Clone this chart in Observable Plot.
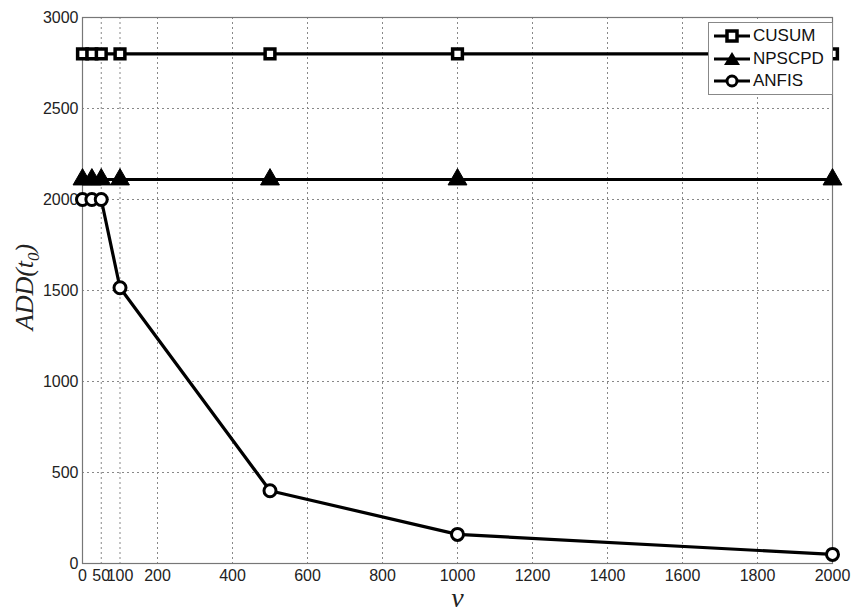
<!DOCTYPE html>
<html>
<head>
<meta charset="utf-8">
<script src="https://cdn.jsdelivr.net/npm/d3@7"></script>
<script src="https://cdn.jsdelivr.net/npm/@observablehq/plot@0.6"></script>
<style>
  html, body { margin: 0; padding: 0; background: #fff; }
  #wrap { position: relative; width: 854px; height: 613px; overflow: hidden; }
  #legend { position: absolute; left: 708px; top: 22px; width: 125px; height: 73px;
    border: 1px solid #888; background: #fff; font-family: "Liberation Sans", Arial, sans-serif;
    font-size: 17px; color: #111; box-sizing: border-box; padding-top: 2px; }
  #legend .row { display: flex; align-items: center; height: 22.5px; }
  #legend svg { margin-left: 3px; margin-right: 1px; }
  #ylab { position: absolute; left: 27px; top: 287px; transform: translate(-50%, -50%) rotate(-90deg);
    font-family: "Liberation Serif", "Times New Roman", serif; font-style: italic; font-size: 26px;
    color: #222; white-space: nowrap; }
  #ylab sub { font-size: 17px; }
</style>
</head>
<body>
<div id="wrap"></div>
<script>
const nu = [0, 25, 50, 100, 500, 1000, 2000];
const cusum = [2800, 2800, 2800, 2800, 2800, 2800, 2800];
const npscpd = [2110, 2110, 2110, 2110, 2110, 2110, 2110];
const anfis = [2000, 2000, 2000, 1515, 400, 160, 50];
const xTicks = [0, 50, 100, 200, 400, 600, 800, 1000, 1200, 1400, 1600, 1800, 2000];
const yTicks = [0, 500, 1000, 1500, 2000, 2500, 3000];
const seriesNames = ["CUSUM", "NPSCPD", "ANFIS"];
const seriesValues = [cusum, npscpd, anfis];
const seriesSymbols = ["square", "triangle", "circle"];
const xLabel = "ν";

const rows = [];
seriesNames.forEach((name, i) => nu.forEach((x, j) => rows.push({series: name, nu: x, v: seriesValues[i][j], sym: seriesSymbols[i]})));

const font = "'Liberation Sans', Arial, sans-serif";
const serif = "'Liberation Serif', 'Times New Roman', serif";
const fmt = d => String(d);

const chart = Plot.plot({
  width: 854, height: 613,
  marginLeft: 82, marginRight: 22, marginTop: 17, marginBottom: 50,
  style: {fontFamily: font, fontSize: "16px", color: "#222", background: "#fff"},
  x: {domain: [0, 2000], ticks: xTicks, label: null, tickFormat: fmt},
  y: {domain: [0, 3000], ticks: yTicks, label: null, tickFormat: fmt},
  marks: [
    Plot.gridX(xTicks, {stroke: "#888", strokeOpacity: 1, strokeDasharray: "2,3", strokeWidth: 1}),
    Plot.gridY(yTicks, {stroke: "#888", strokeOpacity: 1, strokeDasharray: "2,3", strokeWidth: 1}),
    Plot.frame({stroke: "#777", strokeWidth: 1.2}),
    Plot.axisX(xTicks, {tickSize: 0, tickPadding: 6, fontSize: 16, fill: "#222", tickFormat: fmt}),
    Plot.axisY(yTicks, {tickSize: 0, tickPadding: 4, fontSize: 16, fill: "#222", tickFormat: fmt}),
    Plot.line(rows, {x: "nu", y: "v", z: "series", stroke: "#000", strokeWidth: 3.2}),
    Plot.dot(rows.filter(d => d.sym === "square"), {x: "nu", y: "v", symbol: "square", r: 5.5, fill: "#fff", stroke: "#000", strokeWidth: 3.5}),
    Plot.dot(rows.filter(d => d.sym === "triangle"), {x: "nu", y: "v", symbol: "triangle", r: 7, fill: "#000", stroke: "#000", strokeWidth: 1}),
    Plot.dot(rows.filter(d => d.sym === "circle"), {x: "nu", y: "v", symbol: "circle", r: 6, fill: "#fff", stroke: "#000", strokeWidth: 3}),
    Plot.text([xLabel], {frameAnchor: "bottom", dy: 43, fontSize: 28, fontStyle: "italic", fontFamily: serif, fill: "#222"})
  ]
});
document.getElementById("wrap").appendChild(chart);

const ylab = document.createElement("div");
ylab.id = "ylab";
ylab.innerHTML = "ADD(t<sub>0</sub>)";
document.getElementById("wrap").appendChild(ylab);

const legend = document.createElement("div");
legend.id = "legend";
const symSvg = {
  square: '<rect x="15" y="4" width="10" height="10" fill="#fff" stroke="#000" stroke-width="3.5"/>',
  triangle: '<path d="M20,2 L28,15 L12,15 Z" fill="#000"/>',
  circle: '<circle cx="20" cy="9" r="5" fill="#fff" stroke="#000" stroke-width="3"/>'
};
seriesNames.forEach((name, i) => {
  const row = document.createElement("div");
  row.className = "row";
  row.innerHTML = `<svg width="40" height="18"><line x1="2" y1="9" x2="38" y2="9" stroke="#000" stroke-width="3"/>${symSvg[seriesSymbols[i]]}</svg><span>${name}</span>`;
  legend.appendChild(row);
});
document.getElementById("wrap").appendChild(legend);
</script>
</body>
</html>
